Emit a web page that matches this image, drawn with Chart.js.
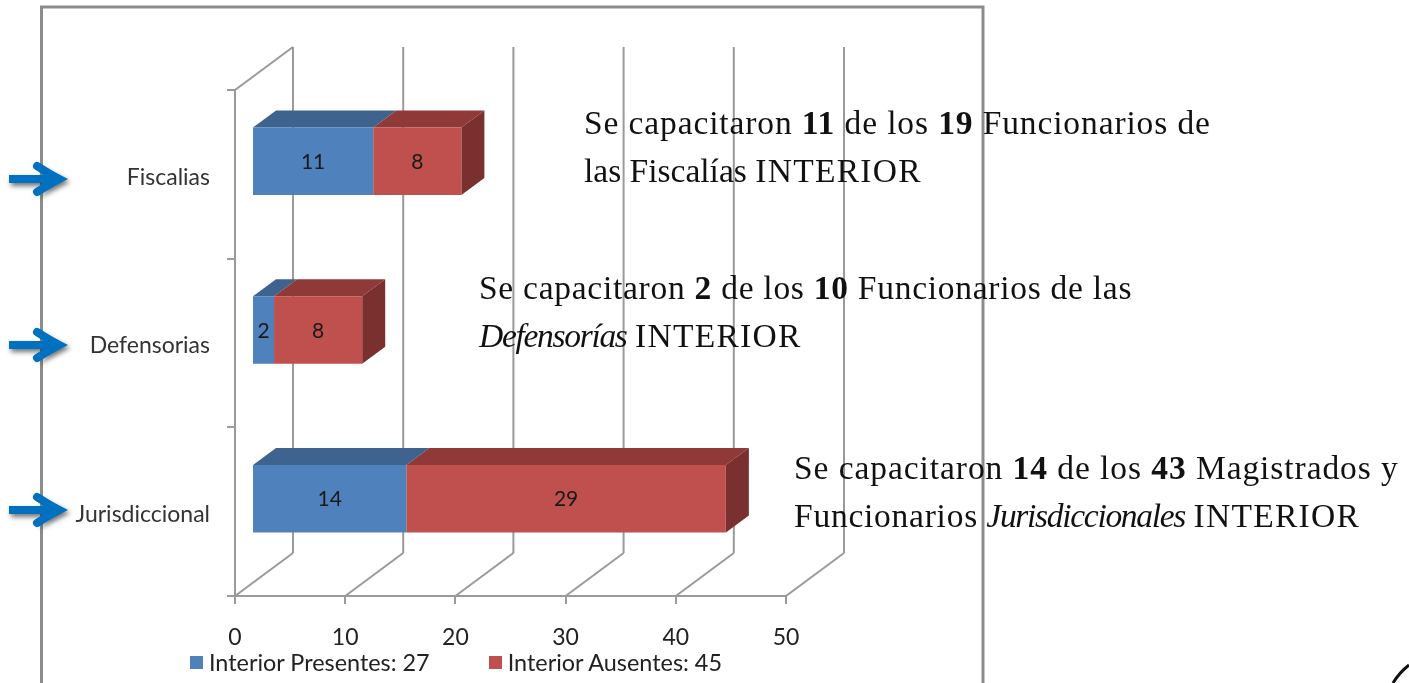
<!DOCTYPE html>
<html lang="es">
<head>
<meta charset="utf-8">
<title>Capacitación Interior</title>
<script src="https://cdn.jsdelivr.net/npm/chart.js@4"></script>
<style>
  html, body { margin: 0; padding: 0; background: #fff; overflow: hidden; }
  #lienzo { position: relative; width: 1409px; height: 683px; }
  #grafico { position: absolute; left: 0; top: 0; }
  .nota { position: absolute; font-family: "Liberation Serif", serif; font-size: 33.5px; line-height: 48px; color: #111; white-space: nowrap; }
  .nota em { letter-spacing: -1.3px; }
  .nota u { text-decoration: none; letter-spacing: 1.3px; }
  #leyenda { position: absolute; left: 190px; top: 649px; display: flex; gap: 59px; font-family: Lato, sans-serif; font-size: 23.4px; line-height: 26px; color: #222; }
  #leyenda span.item { display: flex; align-items: center; }
  #leyenda i { display: inline-block; width: 13px; height: 13px; margin-right: 6px; }
</style>
</head>
<body>
<div id="lienzo">
  <canvas id="grafico" width="1409" height="683"></canvas>
  <div class="nota" style="left:584px;top:99px"><span style="letter-spacing:.88px">Se capacitaron <b>11</b> de los <b>19</b> Funcionarios de</span><br>las Fiscalías <u>INTERIOR</u></div>
  <div class="nota" style="left:479px;top:264px"><span style="letter-spacing:.73px">Se capacitaron <b>2</b> de los <b>10</b> Funcionarios de las</span><br><em>Defensorías</em> <u>INTERIOR</u></div>
  <div class="nota" style="left:794px;top:444px"><span style="letter-spacing:.93px">Se capacitaron <b>14</b> de los <b>43</b> Magistrados y</span><br><span style="letter-spacing:.75px">Funcionarios</span> <em>Jurisdiccionales</em> <u>INTERIOR</u></div>
  <div id="leyenda"></div>
</div>
<script>
// Datos
const categorias = ["Fiscalias", "Defensorias", "Jurisdiccional"];
const presentes = [11, 2, 14];
const ausentes = [8, 8, 29];
const nombrePresentes = "Interior Presentes: 27";
const nombreAusentes = "Interior Ausentes: 45";
const ticksX = [0, 10, 20, 30, 40, 50];

// Colores
const azul = "#4f81bd", azulTapa = "#3e638f";
const rojo = "#c0504d", rojoTapa = "#8f3a38", rojoLado = "#7a302e";
const gris = "#9a9a9a";

// Pared del fondo y desplazamiento de las barras (falso 3D)
const paredX = 58, paredY = -43;
const barraX = 17, barraY = -13;
const fondoX = 23, fondoY = -17;

function cara(ctx, puntos, color) {
  ctx.fillStyle = color;
  ctx.beginPath();
  puntos.forEach(([x, y], i) => i ? ctx.lineTo(x, y) : ctx.moveTo(x, y));
  ctx.closePath();
  ctx.fill();
}

function linea(ctx, x1, y1, x2, y2) {
  ctx.beginPath();
  ctx.moveTo(x1, y1);
  ctx.lineTo(x2, y2);
  ctx.stroke();
}

function flecha(ctx, y) {
  ctx.save();
  ctx.shadowColor = "rgba(0,0,0,0.55)";
  ctx.shadowBlur = 5;
  ctx.shadowOffsetX = 2;
  ctx.shadowOffsetY = 3;
  ctx.strokeStyle = "#0070c0";
  ctx.fillStyle = "#0070c0";
  ctx.beginPath();
  ctx.moveTo(9, y - 4);
  ctx.lineTo(46, y - 4);
  ctx.lineTo(37, y - 16);
  ctx.lineTo(68, y);
  ctx.lineTo(37, y + 16);
  ctx.lineTo(46, y + 4);
  ctx.lineTo(9, y + 4);
  ctx.closePath();
  ctx.fill();
  ctx.shadowColor = "transparent";
  ctx.lineWidth = 8;
  ctx.lineCap = "round";
  ctx.beginPath();
  ctx.moveTo(37, y - 13);
  ctx.lineTo(58, y);
  ctx.lineTo(37, y + 13);
  ctx.stroke();
  ctx.restore();
}

const marco3d = {
  id: "marco3d",
  beforeDraw(chart) {
    const ctx = chart.ctx;
    ctx.save();
    ctx.fillStyle = "#fff";
    ctx.fillRect(0, 0, chart.width, chart.height);
    // Marco de la imagen pegada
    ctx.strokeStyle = "#8c8c8c";
    ctx.lineWidth = 3;
    ctx.beginPath();
    ctx.moveTo(41.5, 683);
    ctx.lineTo(41.5, 7);
    ctx.lineTo(983, 7);
    ctx.lineTo(983, 683);
    ctx.stroke();
    // Esquina de la diapositiva
    ctx.strokeStyle = "#111";
    ctx.lineWidth = 3;
    ctx.beginPath();
    ctx.moveTo(1393, 683);
    ctx.quadraticCurveTo(1399, 673, 1409, 665);
    ctx.stroke();
    ctx.restore();
  },
  beforeDatasetsDraw(chart) {
    const ctx = chart.ctx;
    const { left, top, bottom } = chart.chartArea;
    const x = chart.scales.x;
    ctx.save();
    ctx.strokeStyle = gris;
    ctx.lineWidth = 2;
    // Lineas de la pared y del piso
    ticksX.forEach(v => {
      const px = x.getPixelForValue(v);
      linea(ctx, px, bottom, px + paredX, bottom + paredY);
      linea(ctx, px + paredX, bottom + paredY, px + paredX, top + paredY);
    });
    linea(ctx, left, top, left + paredX, top + paredY);
    // Tapas y costado de las barras
    const capaP = chart.getDatasetMeta(0).data;
    const capaA = chart.getDatasetMeta(1).data;
    categorias.forEach((c, i) => {
      [[capaP[i], azulTapa], [capaA[i], rojoTapa]].forEach(([b, color]) => {
        const y = b.y - b.height / 2 + barraY;
        const x0 = b.base + barraX, x1 = b.x + barraX;
        cara(ctx, [[x0, y], [x1, y], [x1 + fondoX, y + fondoY], [x0 + fondoX, y + fondoY]], color);
      });
      const b = capaA[i];
      const x1 = b.x + barraX;
      const y0 = b.y - b.height / 2 + barraY, y1 = y0 + b.height;
      cara(ctx, [[x1, y0], [x1 + fondoX, y0 + fondoY], [x1 + fondoX, y1 + fondoY], [x1, y1]], rojoLado);
    });
    ctx.restore();
    // Las barras se corren hacia el frente
    ctx.save();
    ctx.translate(barraX, barraY);
  },
  afterDatasetsDraw(chart) {
    const ctx = chart.ctx;
    ctx.restore();
    // Etiquetas de valor
    ctx.save();
    ctx.font = "21px Lato, sans-serif";
    ctx.fillStyle = "#1a1a1a";
    ctx.textAlign = "center";
    ctx.textBaseline = "middle";
    chart.data.datasets.forEach((d, k) => {
      chart.getDatasetMeta(k).data.forEach((b, i) => {
        ctx.fillText(d.data[i], (b.base + b.x) / 2 + barraX, b.y + barraY + 1);
      });
    });
    ctx.restore();
  },
  afterDraw(chart) {
    [179, 345, 510].forEach(y => flecha(chart.ctx, y));
  }
};

const grafico = new Chart(document.getElementById("grafico").getContext("2d"), {
  type: "bar",
  data: {
    labels: categorias,
    datasets: [
      { label: nombrePresentes, data: presentes, backgroundColor: azul },
      { label: nombreAusentes, data: ausentes, backgroundColor: rojo }
    ]
  },
  options: {
    indexAxis: "y",
    responsive: false,
    animation: false,
    layout: { padding: { top: 90, right: 623, bottom: 0, left: 0 } },
    datasets: { bar: { barPercentage: 0.4, categoryPercentage: 1 } },
    plugins: { legend: { display: false }, tooltip: { enabled: false } },
    scales: {
      x: {
        stacked: true,
        min: 0,
        max: 50,
        afterFit(s) { s.height = 87; },
        afterBuildTicks(s) { s.ticks = ticksX.map(v => ({ value: v })); },
        grid: { drawOnChartArea: false, tickLength: 8, color: gris, lineWidth: 2 },
        border: { color: gris, width: 2 },
        ticks: { padding: 20, maxRotation: 0, color: "#222", font: { family: "Lato, sans-serif", size: 23 } }
      },
      y: {
        stacked: true,
        afterFit(s) { s.width = 235; },
        grid: { offset: true, drawOnChartArea: false, tickLength: 8, color: gris, lineWidth: 2 },
        border: { color: gris, width: 2 },
        ticks: { padding: 17, labelOffset: 3, color: "#333", font: { family: "Lato, sans-serif", size: 23 } }
      }
    }
  },
  plugins: [marco3d]
});

// Leyenda en HTML para controlar la separacion entre items
document.getElementById("leyenda").innerHTML = grafico.data.datasets.map(d =>
  `<span class="item"><i style="background:${d.backgroundColor}"></i>${d.label}</span>`
).join("");
</script>
</body>
</html>
